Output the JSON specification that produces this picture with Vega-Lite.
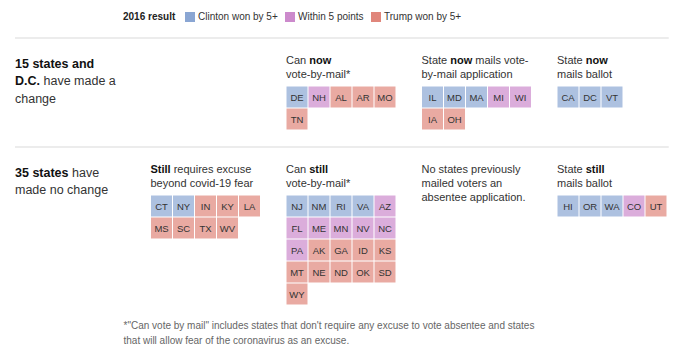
{
  "$schema": "https://vega.github.io/schema/vega-lite/v6.json",
  "width": 700,
  "height": 352,
  "autosize": "none",
  "padding": 0,
  "background": "white",
  "config": {
    "view": {"stroke": null},
    "font": "Liberation Sans",
    "text": {"font": "Liberation Sans"},
    "legend": {"labelFont": "Liberation Sans", "titleFont": "Liberation Sans"}
  },
  "datasets": {
    "states": [
      {"section": "changed", "panel": "vbm", "state": "DE", "result": "Clinton won by 5+"},
      {"section": "changed", "panel": "vbm", "state": "NH", "result": "Within 5 points"},
      {"section": "changed", "panel": "vbm", "state": "AL", "result": "Trump won by 5+"},
      {"section": "changed", "panel": "vbm", "state": "AR", "result": "Trump won by 5+"},
      {"section": "changed", "panel": "vbm", "state": "MO", "result": "Trump won by 5+"},
      {"section": "changed", "panel": "vbm", "state": "TN", "result": "Trump won by 5+"},
      {"section": "changed", "panel": "app", "state": "IL", "result": "Clinton won by 5+"},
      {"section": "changed", "panel": "app", "state": "MD", "result": "Clinton won by 5+"},
      {"section": "changed", "panel": "app", "state": "MA", "result": "Clinton won by 5+"},
      {"section": "changed", "panel": "app", "state": "MI", "result": "Within 5 points"},
      {"section": "changed", "panel": "app", "state": "WI", "result": "Within 5 points"},
      {"section": "changed", "panel": "app", "state": "IA", "result": "Trump won by 5+"},
      {"section": "changed", "panel": "app", "state": "OH", "result": "Trump won by 5+"},
      {"section": "changed", "panel": "ballot", "state": "CA", "result": "Clinton won by 5+"},
      {"section": "changed", "panel": "ballot", "state": "DC", "result": "Clinton won by 5+"},
      {"section": "changed", "panel": "ballot", "state": "VT", "result": "Clinton won by 5+"},
      {"section": "unchanged", "panel": "excuse", "state": "CT", "result": "Clinton won by 5+"},
      {"section": "unchanged", "panel": "excuse", "state": "NY", "result": "Clinton won by 5+"},
      {"section": "unchanged", "panel": "excuse", "state": "IN", "result": "Trump won by 5+"},
      {"section": "unchanged", "panel": "excuse", "state": "KY", "result": "Trump won by 5+"},
      {"section": "unchanged", "panel": "excuse", "state": "LA", "result": "Trump won by 5+"},
      {"section": "unchanged", "panel": "excuse", "state": "MS", "result": "Trump won by 5+"},
      {"section": "unchanged", "panel": "excuse", "state": "SC", "result": "Trump won by 5+"},
      {"section": "unchanged", "panel": "excuse", "state": "TX", "result": "Trump won by 5+"},
      {"section": "unchanged", "panel": "excuse", "state": "WV", "result": "Trump won by 5+"},
      {"section": "unchanged", "panel": "vbm", "state": "NJ", "result": "Clinton won by 5+"},
      {"section": "unchanged", "panel": "vbm", "state": "NM", "result": "Clinton won by 5+"},
      {"section": "unchanged", "panel": "vbm", "state": "RI", "result": "Clinton won by 5+"},
      {"section": "unchanged", "panel": "vbm", "state": "VA", "result": "Clinton won by 5+"},
      {"section": "unchanged", "panel": "vbm", "state": "AZ", "result": "Within 5 points"},
      {"section": "unchanged", "panel": "vbm", "state": "FL", "result": "Within 5 points"},
      {"section": "unchanged", "panel": "vbm", "state": "ME", "result": "Within 5 points"},
      {"section": "unchanged", "panel": "vbm", "state": "MN", "result": "Within 5 points"},
      {"section": "unchanged", "panel": "vbm", "state": "NV", "result": "Within 5 points"},
      {"section": "unchanged", "panel": "vbm", "state": "NC", "result": "Within 5 points"},
      {"section": "unchanged", "panel": "vbm", "state": "PA", "result": "Within 5 points"},
      {"section": "unchanged", "panel": "vbm", "state": "AK", "result": "Trump won by 5+"},
      {"section": "unchanged", "panel": "vbm", "state": "GA", "result": "Trump won by 5+"},
      {"section": "unchanged", "panel": "vbm", "state": "ID", "result": "Trump won by 5+"},
      {"section": "unchanged", "panel": "vbm", "state": "KS", "result": "Trump won by 5+"},
      {"section": "unchanged", "panel": "vbm", "state": "MT", "result": "Trump won by 5+"},
      {"section": "unchanged", "panel": "vbm", "state": "NE", "result": "Trump won by 5+"},
      {"section": "unchanged", "panel": "vbm", "state": "ND", "result": "Trump won by 5+"},
      {"section": "unchanged", "panel": "vbm", "state": "OK", "result": "Trump won by 5+"},
      {"section": "unchanged", "panel": "vbm", "state": "SD", "result": "Trump won by 5+"},
      {"section": "unchanged", "panel": "vbm", "state": "WY", "result": "Trump won by 5+"},
      {"section": "unchanged", "panel": "ballot", "state": "HI", "result": "Clinton won by 5+"},
      {"section": "unchanged", "panel": "ballot", "state": "OR", "result": "Clinton won by 5+"},
      {"section": "unchanged", "panel": "ballot", "state": "WA", "result": "Clinton won by 5+"},
      {"section": "unchanged", "panel": "ballot", "state": "CO", "result": "Within 5 points"},
      {"section": "unchanged", "panel": "ballot", "state": "UT", "result": "Trump won by 5+"}
    ],
    "labels": [
      {"section": "changed", "panel": "header", "kind": "h1b", "text": "15 states and"},
      {"section": "changed", "panel": "header", "kind": "h2b", "text": "D.C."},
      {"section": "changed", "panel": "header", "kind": "h2r", "text": "have made a"},
      {"section": "changed", "panel": "header", "kind": "h3", "text": "change"},
      {"section": "unchanged", "panel": "header", "kind": "h1b", "text": "35 states"},
      {"section": "unchanged", "panel": "header", "kind": "h1r", "text": "have"},
      {"section": "unchanged", "panel": "header", "kind": "h2r0", "text": "made no change"},
      {"section": "changed", "panel": "vbm", "kind": "t1", "text": "Can"},
      {"section": "changed", "panel": "vbm", "kind": "t1b23", "text": "now"},
      {"section": "changed", "panel": "vbm", "kind": "rest", "text": "vote-by-mail*"},
      {"section": "changed", "panel": "app", "kind": "t1", "text": "State"},
      {"section": "changed", "panel": "app", "kind": "t1b29", "text": "now"},
      {"section": "changed", "panel": "app", "kind": "t1r54", "text": "mails vote-"},
      {"section": "changed", "panel": "app", "kind": "rest", "text": "by-mail application"},
      {"section": "changed", "panel": "ballot", "kind": "t1", "text": "State"},
      {"section": "changed", "panel": "ballot", "kind": "t1b29", "text": "now"},
      {"section": "changed", "panel": "ballot", "kind": "rest", "text": "mails ballot"},
      {"section": "unchanged", "panel": "excuse", "kind": "t1b0", "text": "Still"},
      {"section": "unchanged", "panel": "excuse", "kind": "t1r23", "text": "requires excuse"},
      {"section": "unchanged", "panel": "excuse", "kind": "rest", "text": "beyond covid-19 fear"},
      {"section": "unchanged", "panel": "vbm", "kind": "t1", "text": "Can"},
      {"section": "unchanged", "panel": "vbm", "kind": "t1b23", "text": "still"},
      {"section": "unchanged", "panel": "vbm", "kind": "rest", "text": "vote-by-mail*"},
      {"section": "unchanged", "panel": "app", "kind": "t1", "text": "No states previously"},
      {"section": "unchanged", "panel": "app", "kind": "rest", "text": "mailed voters an\nabsentee application."},
      {"section": "unchanged", "panel": "ballot", "kind": "t1", "text": "State"},
      {"section": "unchanged", "panel": "ballot", "kind": "t1b29", "text": "still"},
      {"section": "unchanged", "panel": "ballot", "kind": "rest", "text": "mails ballot"},
      {"section": "unchanged", "panel": "excuse", "kind": "foot", "text": "*\"Can vote by mail\" includes states that don't require any excuse to vote absentee and states\nthat will allow fear of the coronavirus as an excuse."}
    ]
  },
  "layer": [
    {
      "data": {"values": [{"section": "changed"}, {"section": "unchanged"}]},
      "mark": {"type": "rule", "color": "#d9d9d9", "strokeWidth": 1, "x2Offset": 44},
      "encoding": {
        "y": {"field": "section", "type": "nominal", "bandPosition": 0, "axis": null,
              "scale": {"type": "band", "domain": ["changed", "unchanged"], "range": [38, 256], "paddingInner": 0, "paddingOuter": 0}},
        "x": {"datum": "header", "type": "nominal", "bandPosition": 0,
              "scale": {"type": "band", "domain": ["header", "excuse", "vbm", "app", "ballot"], "range": [15, 692.5], "paddingInner": 0, "paddingOuter": 0}, "axis": null},
        "x2": {"datum": "ballot"}
      }
    },
    {
      "data": {"name": "states"},
      "transform": [
        {"window": [{"op": "row_number", "as": "rn"}], "groupby": ["section", "panel"]},
        {"calculate": "(datum.rn - 1) % 5", "as": "col"},
        {"calculate": "floor((datum.rn - 1) / 5)", "as": "row"}
      ],
      "layer": [
        {
          "mark": {"type": "square", "size": 441, "opacity": 0.7, "filled": true, "strokeWidth": 0},
          "encoding": {
            "x": {"field": "panel", "type": "nominal", "axis": null},
            "xOffset": {"field": "col", "type": "ordinal", "scale": {"type": "band", "domain": [0, 1, 2, 3, 4], "range": [0, 110], "paddingInner": 0, "paddingOuter": 0}},
            "y": {"field": "section", "type": "nominal", "axis": null},
            "yOffset": {"field": "row", "type": "ordinal", "scale": {"type": "band", "domain": [0, 1, 2, 3, 4], "range": [48, 158], "paddingInner": 0, "paddingOuter": 0}},
            "color": {
              "field": "result", "type": "nominal",
              "scale": {"domain": ["Clinton won by 5+", "Within 5 points", "Trump won by 5+"], "range": ["#8aa6d3", "#cc8acc", "#e0867b"]},
              "legend": {
                "orient": "none", "legendX": 123, "legendY": 12, "direction": "horizontal",
                "title": "2016 result", "titleOrient": "left", "titleFontSize": 10, "titleFontWeight": "bold", "titleColor": "#222",
                "titlePadding": 9, "titleBaseline": "middle", "titleAnchor": "middle",
                "labelFontSize": 10, "labelColor": "#333", "labelOffset": 3, "columnPadding": 7,
                "symbolType": "square", "symbolSize": 100, "symbolStrokeWidth": 0, "symbolOpacity": 1, "padding": 0
              }
            }
          }
        },
        {
          "mark": {"type": "text", "fontSize": 9.5, "fill": "#333", "baseline": "middle", "align": "center", "dy": 0.5},
          "encoding": {
            "x": {"field": "panel", "type": "nominal", "axis": null},
            "xOffset": {"field": "col", "type": "ordinal"},
            "y": {"field": "section", "type": "nominal", "axis": null},
            "yOffset": {"field": "row", "type": "ordinal"},
            "text": {"field": "state"}
          }
        }
      ]
    },
    {
      "data": {"name": "labels"},
      "layer": [
        {"transform": [{"filter": "datum.kind === 'h1b'"}],
         "mark": {"type": "text", "align": "left", "baseline": "alphabetic", "fontSize": 12.5, "fontWeight": "bold", "fill": "#111", "dy": 29.5},
         "encoding": {"x": {"field": "panel", "type": "nominal", "bandPosition": 0, "axis": null}, "y": {"field": "section", "type": "nominal", "bandPosition": 0, "axis": null}, "text": {"field": "text"}}},
        {"transform": [{"filter": "datum.kind === 'h1r'"}],
         "mark": {"type": "text", "align": "left", "baseline": "alphabetic", "fontSize": 12.5, "fill": "#333", "dy": 29.5, "dx": 57},
         "encoding": {"x": {"field": "panel", "type": "nominal", "bandPosition": 0, "axis": null}, "y": {"field": "section", "type": "nominal", "bandPosition": 0, "axis": null}, "text": {"field": "text"}}},
        {"transform": [{"filter": "datum.kind === 'h2b'"}],
         "mark": {"type": "text", "align": "left", "baseline": "alphabetic", "fontSize": 12.5, "fontWeight": "bold", "fill": "#111", "dy": 47},
         "encoding": {"x": {"field": "panel", "type": "nominal", "bandPosition": 0, "axis": null}, "y": {"field": "section", "type": "nominal", "bandPosition": 0, "axis": null}, "text": {"field": "text"}}},
        {"transform": [{"filter": "datum.kind === 'h2r'"}],
         "mark": {"type": "text", "align": "left", "baseline": "alphabetic", "fontSize": 12.5, "fill": "#333", "dy": 47, "dx": 28.5},
         "encoding": {"x": {"field": "panel", "type": "nominal", "bandPosition": 0, "axis": null}, "y": {"field": "section", "type": "nominal", "bandPosition": 0, "axis": null}, "text": {"field": "text"}}},
        {"transform": [{"filter": "datum.kind === 'h2r0'"}],
         "mark": {"type": "text", "align": "left", "baseline": "alphabetic", "fontSize": 12.5, "fill": "#333", "dy": 47},
         "encoding": {"x": {"field": "panel", "type": "nominal", "bandPosition": 0, "axis": null}, "y": {"field": "section", "type": "nominal", "bandPosition": 0, "axis": null}, "text": {"field": "text"}}},
        {"transform": [{"filter": "datum.kind === 'h3'"}],
         "mark": {"type": "text", "align": "left", "baseline": "alphabetic", "fontSize": 12.5, "fill": "#333", "dy": 64.5},
         "encoding": {"x": {"field": "panel", "type": "nominal", "bandPosition": 0, "axis": null}, "y": {"field": "section", "type": "nominal", "bandPosition": 0, "axis": null}, "text": {"field": "text"}}},
        {"transform": [{"filter": "datum.kind === 't1'"}],
         "mark": {"type": "text", "align": "left", "baseline": "alphabetic", "fontSize": 11, "fill": "#333", "dy": 26},
         "encoding": {"x": {"field": "panel", "type": "nominal", "bandPosition": 0, "axis": null}, "y": {"field": "section", "type": "nominal", "bandPosition": 0, "axis": null}, "text": {"field": "text"}}},
        {"transform": [{"filter": "datum.kind === 't1b0'"}],
         "mark": {"type": "text", "align": "left", "baseline": "alphabetic", "fontSize": 11, "fontWeight": "bold", "fill": "#111", "dy": 26},
         "encoding": {"x": {"field": "panel", "type": "nominal", "bandPosition": 0, "axis": null}, "y": {"field": "section", "type": "nominal", "bandPosition": 0, "axis": null}, "text": {"field": "text"}}},
        {"transform": [{"filter": "datum.kind === 't1r23'"}],
         "mark": {"type": "text", "align": "left", "baseline": "alphabetic", "fontSize": 11, "fill": "#333", "dy": 26, "dx": 23.2},
         "encoding": {"x": {"field": "panel", "type": "nominal", "bandPosition": 0, "axis": null}, "y": {"field": "section", "type": "nominal", "bandPosition": 0, "axis": null}, "text": {"field": "text"}}},
        {"transform": [{"filter": "datum.kind === 't1b23'"}],
         "mark": {"type": "text", "align": "left", "baseline": "alphabetic", "fontSize": 11, "fontWeight": "bold", "fill": "#111", "dy": 26, "dx": 23.2},
         "encoding": {"x": {"field": "panel", "type": "nominal", "bandPosition": 0, "axis": null}, "y": {"field": "section", "type": "nominal", "bandPosition": 0, "axis": null}, "text": {"field": "text"}}},
        {"transform": [{"filter": "datum.kind === 't1b29'"}],
         "mark": {"type": "text", "align": "left", "baseline": "alphabetic", "fontSize": 11, "fontWeight": "bold", "fill": "#111", "dy": 26, "dx": 28.7},
         "encoding": {"x": {"field": "panel", "type": "nominal", "bandPosition": 0, "axis": null}, "y": {"field": "section", "type": "nominal", "bandPosition": 0, "axis": null}, "text": {"field": "text"}}},
        {"transform": [{"filter": "datum.kind === 't1r54'"}],
         "mark": {"type": "text", "align": "left", "baseline": "alphabetic", "fontSize": 11, "fill": "#333", "dy": 26, "dx": 53.8},
         "encoding": {"x": {"field": "panel", "type": "nominal", "bandPosition": 0, "axis": null}, "y": {"field": "section", "type": "nominal", "bandPosition": 0, "axis": null}, "text": {"field": "text"}}},
        {"transform": [{"filter": "datum.kind === 'rest'"}],
         "mark": {"type": "text", "align": "left", "baseline": "alphabetic", "fontSize": 11, "fill": "#333", "dy": 40, "lineBreak": "\n", "lineHeight": 14},
         "encoding": {"x": {"field": "panel", "type": "nominal", "bandPosition": 0, "axis": null}, "y": {"field": "section", "type": "nominal", "bandPosition": 0, "axis": null}, "text": {"field": "text"}}},
        {"transform": [{"filter": "datum.kind === 'foot'"}],
         "mark": {"type": "text", "align": "left", "baseline": "alphabetic", "fontSize": 10, "fill": "#666", "dy": 73, "dx": -27, "lineBreak": "\n", "lineHeight": 15},
         "encoding": {"x": {"field": "panel", "type": "nominal", "bandPosition": 0, "axis": null}, "y": {"field": "section", "type": "nominal", "bandPosition": 1, "axis": null}, "text": {"field": "text"}}}
      ]
    }
  ]
}
